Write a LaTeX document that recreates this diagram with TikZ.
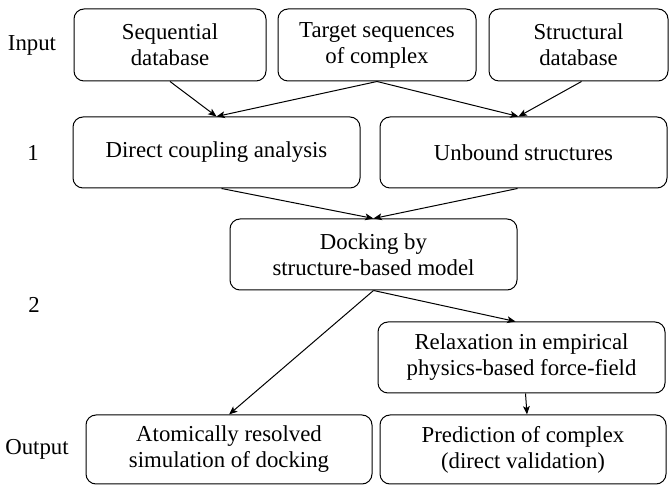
\documentclass[tikz,border=0pt]{standalone}
\usepackage{fontspec}
\setmainfont{Liberation Serif}
\usepackage{tikz}
\usetikzlibrary{arrows.meta, positioning}
\tikzset{
  stagebox/.style={draw, rounded corners=5pt, align=center, inner sep=0pt,
    minimum width=143.5pt, minimum height=35.5pt},
  rowlabel/.style={inner sep=0pt}
}

\begin{document}
\begin{tikzpicture}[x=0.5pt, y=-0.5pt, >={Stealth[length=4.2pt, width=3.4pt, inset=1pt]}, line width=0.5pt, every node/.style={font=\fontsize{11.4pt}{13pt}\selectfont}]
\useasboundingbox (0,0) rectangle (669,485);
\node[stagebox, minimum width=96pt, minimum height=36pt] (seq) at (170,45) {Sequential\\database};
\node[stagebox, minimum width=99pt, minimum height=36pt, right=5.5pt of seq] (target) {Target sequences\\of complex};
\node[stagebox, minimum width=89.5pt, minimum height=36pt, right=6pt of target] (struct) {Structural\\database};
\node[stagebox] (dca) at (216.5,152.5) {Direct coupling analysis};
\node[stagebox, right=9.5pt of dca] (unbound) {Unbound structures};
\node[stagebox] (dock) at (373.5,254.5) {Docking by\\structure-based model};
\node[stagebox] (relax) at (521.5,357.5) {Relaxation in empirical\\physics-based force-field};
\node[stagebox, minimum width=143pt, minimum height=34.5pt] (atomic) at (229,449.5) {Atomically resolved\\simulation of docking};
\node[stagebox, minimum width=143pt, minimum height=34.5pt, right=3.5pt of atomic] (predict) {Prediction of complex\\(direct validation)};
\node[rowlabel] (lin) at (32,45) {Input};
\node[rowlabel] (lone) at (33,152.5) {1};
\node[rowlabel] (ltwo) at (34,305) {2};
\node[rowlabel] (lout) at (37,449.5) {Output};
\draw[->] (seq.south) -- (dca.north);
\draw[->] (target.south) -- (dca.north);
\draw[->] (target.south) -- ([xshift=-2.5pt]unbound.north);
\draw[->] ([xshift=1.5pt]struct.south) -- ([xshift=-2.5pt]unbound.north);
\draw[->] ([xshift=2.5pt]dca.south) -- (dock.north);
\draw[->] ([xshift=-3pt]unbound.south) -- (dock.north);
\draw[->] (dock.south) -- ([xshift=-3pt]relax.north);
\draw[->] (dock.south) -- (atomic.north);
\draw[->] ([xshift=2pt]relax.south) -- ([xshift=2pt]predict.north);
\end{tikzpicture}
\end{document}
